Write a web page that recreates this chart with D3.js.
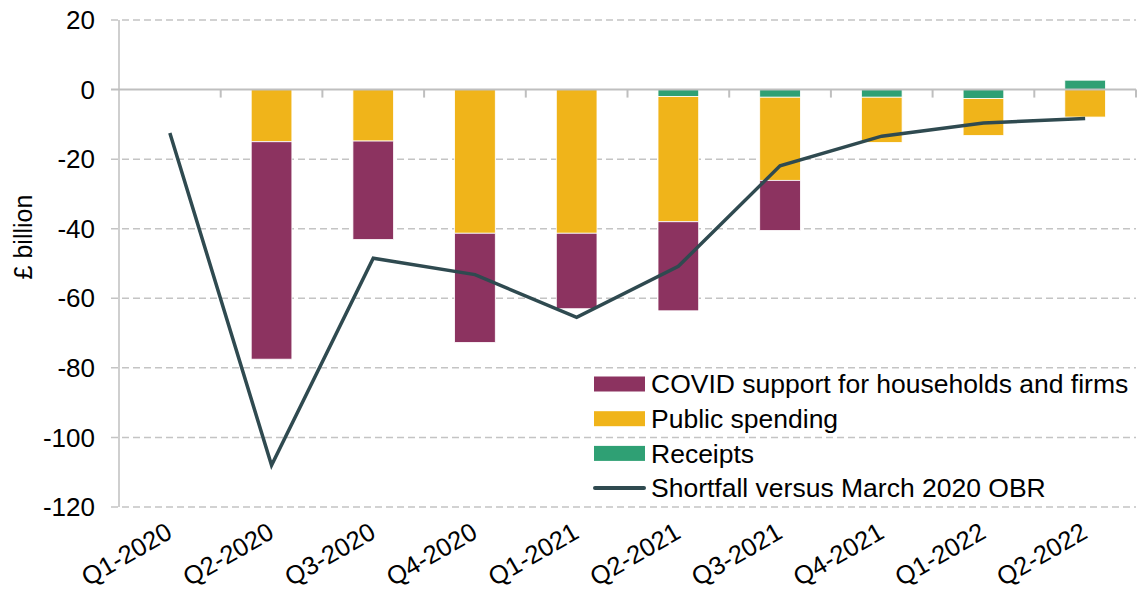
<!DOCTYPE html>
<html>
<head>
<meta charset="utf-8">
<script src="https://cdn.jsdelivr.net/npm/d3@7"></script>
<style>
  body { margin: 0; background: #fff; }
  svg { display: block; font-family: "Liberation Sans", Arial, sans-serif; }
</style>
</head>
<body>
<svg width="1139" height="594"></svg>
<script>
// quarters on the x axis
const quarters = ["Q1-2020", "Q2-2020", "Q3-2020", "Q4-2020", "Q1-2021",
                  "Q2-2021", "Q3-2021", "Q4-2021", "Q1-2022", "Q2-2022"];

// stacked components, £ billion
const receipts = [0, 0, 0, 0, 0, -2.0, -2.2, -2.2, -2.6, 2.7];
const publicSpending = [0, -15.0, -14.8, -41.3, -41.3, -36.0, -23.9, -13.0, -10.6, -7.9];
const covidSupport = [0, -62.5, -28.3, -31.4, -21.7, -25.6, -14.4, 0, 0, 0];

// shortfall line
const shortfall = [-12.5, -108.0, -48.5, -53.2, -65.5, -50.8, -21.9, -13.4, -9.6, -8.3];

const yTicks = [20, 0, -20, -40, -60, -80, -100, -120];

const seriesNames = ["COVID support for households and firms", "Public spending", "Receipts"];
const colors = { covid: "#8c3360", spend: "#f0b41a", rec: "#2fa074", line: "#2f4a50" };

const svg = d3.select("svg");
const margin = { top: 20, right: 3, bottom: 87, left: 119 };
const width = 1139 - margin.left - margin.right;
const height = 594 - margin.top - margin.bottom;

const g = svg.append("g").attr("transform", `translate(${margin.left},${margin.top})`);

const x = d3.scaleBand().domain(quarters).range([0, width]).paddingInner(0.6).paddingOuter(0.3);
const xc = d3.scaleBand().domain(quarters).range([0, width]); // for tick positions
const y = d3.scaleLinear().domain([-120, 20]).range([height, 0]);

// gridlines
g.selectAll(".grid")
  .data(yTicks.filter(d => d !== 0))
  .enter().append("line")
    .attr("x1", -8).attr("x2", width)
    .attr("y1", d => y(d)).attr("y2", d => y(d))
    .attr("stroke", "#c4c4c4")
    .attr("stroke-width", 1.5)
    .attr("stroke-dasharray", "7,4");

// y axis line
g.append("line")
  .attr("x1", 0).attr("x2", 0).attr("y1", 0).attr("y2", height)
  .attr("stroke", "#bfbfbf").attr("stroke-width", 1.5);

// y tick labels
g.selectAll(".ylab")
  .data(yTicks)
  .enter().append("text")
    .attr("x", -24)
    .attr("y", d => y(d))
    .attr("dy", "0.35em")
    .attr("text-anchor", "end")
    .attr("font-size", 26)
    .attr("fill", "#000")
    .text(d => d);

// y title
svg.append("text")
  .attr("transform", `translate(32,237) rotate(-90)`)
  .attr("text-anchor", "middle")
  .attr("font-size", 25)
  .text("£ billion");

// build stacked segments
const segs = [];
quarters.forEach((q, i) => {
  let neg = 0, pos = 0;
  [["rec", receipts[i]], ["spend", publicSpending[i]], ["covid", covidSupport[i]]].forEach(([k, v]) => {
    if (v < 0) { segs.push({ q, k, y0: neg, y1: neg + v }); neg += v; }
    else if (v > 0) { segs.push({ q, k, y0: pos, y1: pos + v }); pos += v; }
  });
});

g.selectAll(".bar")
  .data(segs)
  .enter().append("rect")
    .attr("x", d => x(d.q))
    .attr("width", x.bandwidth())
    .attr("y", d => y(Math.max(d.y0, d.y1)))
    .attr("height", d => Math.abs(y(d.y0) - y(d.y1)))
    .attr("fill", d => colors[d.k])
    .attr("stroke", "#fff")
    .attr("stroke-width", 0.8);

// zero line with ticks
g.append("line")
  .attr("x1", -8).attr("x2", width)
  .attr("y1", y(0)).attr("y2", y(0))
  .attr("stroke", "#bfbfbf").attr("stroke-width", 2);

g.selectAll(".xtick")
  .data(quarters.slice(1).concat(["end"]))
  .enter().append("line")
    .attr("x1", (d, i) => xc.step() * (i + 1))
    .attr("x2", (d, i) => xc.step() * (i + 1))
    .attr("y1", y(0)).attr("y2", y(0) + 8)
    .attr("stroke", "#bfbfbf").attr("stroke-width", 2);

// shortfall line
const line = d3.line()
  .x((d, i) => xc(quarters[i]) + xc.bandwidth() / 2)
  .y(d => y(d));

g.append("path")
  .datum(shortfall)
  .attr("d", line)
  .attr("fill", "none")
  .attr("stroke", colors.line)
  .attr("stroke-width", 3.5)
  .attr("stroke-linejoin", "miter");

// x labels
g.selectAll(".xlab")
  .data(quarters)
  .enter().append("text")
    .attr("transform", d => `translate(${xc(d) + xc.bandwidth() / 2 + 4},${height + 30}) rotate(-30)`)
    .attr("text-anchor", "end")
    .attr("font-size", 25.5)
    .text(d => d);

// legend
const legend = svg.append("g").attr("transform", "translate(594,384)");
const legendItems = [
  { name: seriesNames[0], color: colors.covid, type: "rect" },
  { name: seriesNames[1], color: colors.spend, type: "rect" },
  { name: seriesNames[2], color: colors.rec, type: "rect" },
  { name: "Shortfall versus March 2020 OBR", color: colors.line, type: "line" }
];
const li = legend.selectAll(".li")
  .data(legendItems)
  .enter().append("g")
    .attr("transform", (d, i) => `translate(0,${i * 34.7})`);

li.filter(d => d.type === "rect").append("rect")
  .attr("x", 0).attr("y", -7.5).attr("width", 51).attr("height", 15)
  .attr("fill", d => d.color);

li.filter(d => d.type === "line").append("line")
  .attr("x1", 1).attr("x2", 50).attr("y1", 0).attr("y2", 0)
  .attr("stroke", d => d.color).attr("stroke-width", 4)
  .attr("stroke-linecap", "round");

li.append("text")
  .attr("x", 57)
  .attr("dy", "0.35em")
  .attr("font-size", 26.5)
  .text(d => d.name);
</script>
</body>
</html>
